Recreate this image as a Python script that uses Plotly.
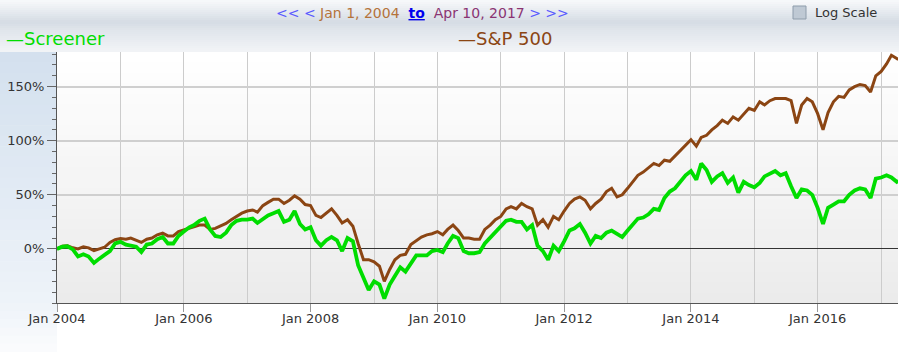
import pandas as pd
import plotly.graph_objects as go

# ---------------- data (percent change since Jan 1, 2004), read monthly ----------------
dates = [d.strftime("%Y-%m-%d") for d in pd.date_range("2004-01-01", periods=160, freq="MS")] + ["2017-04-10"]

sp500 = [0, 2.5, 3, 1, 0, 2, 1, -1.5, 0, 1.5, 6, 8.5,
         9.5, 9, 10, 8, 6, 9, 10, 13, 14.5, 12, 12, 16,
         17.5, 19, 20, 22, 22, 18, 19, 21, 23.5, 27, 30, 33,
         35, 36, 34, 40, 43, 46, 46, 42, 45, 49, 46, 41,
         40, 31, 29, 33, 37, 31, 24, 27, 21, 5, -10, -10,
         -12, -16, -30, -19, -10, -6, -5, 4, 8, 11, 13, 14,
         16, 13, 18, 22, 17, 10, 10, 9, 9, 18, 22, 27,
         30, 37, 39, 37, 42, 39, 37, 22, 27, 20, 30, 27,
         35, 42, 46, 48, 45, 37, 42, 46, 53, 56, 48, 50,
         56, 62, 68, 71, 75, 79, 77, 82, 81, 86, 91, 96,
         101, 95, 103, 105, 110, 114, 119, 116, 122, 119, 125, 130,
         128, 136, 133, 137, 139, 139, 139, 137, 116, 133, 139, 136,
         125, 110, 126, 136, 141, 140, 147, 150, 152, 151, 145, 160,
         164, 171, 179, 176, 175]

screener = [0, 2, 2.4, -0.5, -7, -5, -7, -13, -9, -6, -2, 5,
            6.5, 4, 3, 2, -3, 4, 5, 9, 11, 5, 5, 12,
            16, 20, 22, 26, 28, 18, 12, 11, 15, 22, 26, 27,
            27, 28, 24, 28, 31, 33, 35, 25, 27, 35, 23, 18,
            20, 8, 3, 8, 11, 8, -2, 10, 7, -15, -27, -38,
            -30, -33, -46, -33, -25, -17, -21, -14, -6, -6, -6, -2,
            -1, -3, 5, 12, 10, -2, -4, -4, -3, 5, 10, 16,
            20, 26, 27, 25, 25, 18, 22, 3, -2, -10, 3, -2,
            7, 17, 19, 23, 15, 5, 12, 10, 15, 17, 14, 11,
            17, 23, 28, 29, 32, 37, 36, 47, 53, 56, 62, 68,
            72, 64, 79, 73, 62, 67, 70, 61, 66, 52, 62, 59,
            57, 61, 67, 70, 72, 68, 70, 58, 47, 55, 54, 50,
            38, 23, 38, 41, 44, 44, 50, 54, 56, 55, 47, 65,
            66, 68, 66, 62, 63]

y_tick_vals = [0, 50, 100, 150]
y_tick_text = ["0%", "50%", "100%", "150%"]

# ---------------- geometry ----------------
W, H = 899, 352
ML, MR, MT, MB = 57, 1, 52, 49
PW, PH = W - ML - MR, H - MT - MB
FONT = "DejaVu Sans"


def xp(px):
    return (px - ML) / PW


def yp(py):
    return (H - MB - py) / PH


def hex2rgb(h):
    h = h.lstrip("#")
    return [int(h[i:i + 2], 16) for i in (0, 2, 4)]


def interp(stops, v):
    for (a, ca), (b, cb) in zip(stops[:-1], stops[1:]):
        if a <= v <= b:
            f = (v - a) / (b - a) if b > a else 0
            r1, r2 = hex2rgb(ca), hex2rgb(cb)
            c = [round(r1[i] + (r2[i] - r1[i]) * f) for i in range(3)]
            return "rgb(%d,%d,%d)" % tuple(c)
    return stops[-1][1]


shapes = []


def vgrad(x0, x1, y0, y1, stops, n=24):
    step = (y1 - y0) / n
    for i in range(n):
        ya = y0 + i * step
        yb = ya + step + 0.6
        col = interp(stops, ya + step / 2)
        shapes.append(dict(type="rect", xref="paper", yref="paper",
                           x0=xp(x0), x1=xp(x1), y0=yp(yb), y1=yp(ya),
                           fillcolor=col, line=dict(width=0), layer="below"))


# header band
vgrad(0, W, 0, MT, [(0, "#f8f9fb"), (8, "#eceff3"), (22, "#d5dce4"), (30, "#e0e5eb"), (52, "#f2f4f7")], n=26)
# left axis panel
vgrad(0, ML, MT, H - MB, [(MT, "#d3e0ee"), (H - MB, "#eef3f9")], n=24)
vgrad(0, ML, H - MB, H, [(H - MB, "#eef3f9"), (H, "#fbfcfd")], n=6)
# plot area
vgrad(ML, W - MR, MT, H - MB, [(MT, "#ffffff"), (H - MB, "#ebebeb")], n=24)

# Log Scale checkbox
shapes.append(dict(type="rect", xref="paper", yref="paper",
                   x0=xp(793), x1=xp(806), y0=yp(19), y1=yp(6),
                   fillcolor="#bfc9d4", line=dict(color="#8e9cab", width=1)))

fig = go.Figure()
fig.add_trace(go.Scatter(x=dates, y=sp500, mode="lines", name="S&P 500",
                         line=dict(color="#8b4513", width=3), hoverinfo="skip"))
fig.add_trace(go.Scatter(x=dates, y=screener, mode="lines", name="Screener",
                         line=dict(color="#00dd00", width=3.8), hoverinfo="skip"))

annotations = [
    dict(x=xp(422), y=yp(13), xref="paper", yref="paper", showarrow=False,
         xanchor="center", yanchor="middle",
         text=("<span style='color:#5a5aff'>&lt;&lt; &lt;</span> "
               "<span style='color:#b4733a'>Jan 1, 2004</span>  "
               "<span style='color:#0000ee;text-decoration:underline'><b>to</b></span>  "
               "<span style='color:#8a3472'>Apr 10, 2017</span> "
               "<span style='color:#5a5aff'>&gt; &gt;&gt;</span>"),
         font=dict(family=FONT, size=14)),
    dict(x=xp(813), y=yp(13), xref="paper", yref="paper", showarrow=False,
         xanchor="left", yanchor="middle", text="Log Scale",
         font=dict(family=FONT, size=13, color="#333333")),
    dict(x=xp(4), y=yp(38), xref="paper", yref="paper", showarrow=False,
         xanchor="left", yanchor="middle", text="—Screener",
         font=dict(family=FONT, size=18, color="#00dd00")),
    dict(x=xp(456), y=yp(38), xref="paper", yref="paper", showarrow=False,
         xanchor="left", yanchor="middle", text="—S&amp;P 500",
         font=dict(family=FONT, size=18, color="#8b4513")),
]

fig.update_layout(
    width=W, height=H,
    margin=dict(l=ML, r=MR, t=MT, b=MB, pad=0),
    paper_bgcolor="#ffffff",
    plot_bgcolor="rgba(0,0,0,0)",
    showlegend=False,
    shapes=shapes,
    annotations=annotations,
    font=dict(family=FONT, size=13, color="#333333"),
    xaxis=dict(
        type="date",
        range=["2004-01-01", "2017-04-08"],
        tick0="2004-01-01", dtick="M24", tickformat="%b %Y",
        ticks="outside", ticklen=8, tickcolor="#999999", tickwidth=1,
        ticklabelstandoff=-5,
        showgrid=True, gridcolor="#cccccc", gridwidth=1,
        minor=dict(dtick="M12", tick0="2004-01-01", showgrid=True,
                   gridcolor="#cccccc", gridwidth=1, ticks=""),
        showline=True, linecolor="#555555", linewidth=1,
        zeroline=False, fixedrange=True,
        tickfont=dict(family=FONT, size=13, color="#333333"),
    ),
    yaxis=dict(
        range=[-50, 182],
        tickmode="array", tickvals=y_tick_vals, ticktext=y_tick_text,
        ticks="outside", ticklen=9, tickcolor="#666666", tickwidth=1,
        showgrid=True, gridcolor="#cfcfcf", gridwidth=1.5,
        minor=dict(dtick=10, tick0=0, ticks="outside", ticklen=4,
                   tickcolor="#666666", showgrid=False),
        showline=True, linecolor="#555555", linewidth=1,
        zeroline=True, zerolinecolor="#333333", zerolinewidth=1,
        fixedrange=True,
        tickfont=dict(family=FONT, size=13, color="#333333"),
    ),
)

fig.write_html("out.html", config={"displayModeBar": False})
